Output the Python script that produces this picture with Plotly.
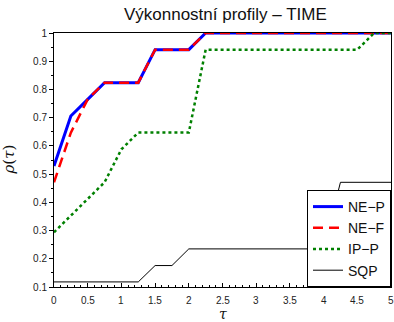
import plotly.graph_objects as go

tau = [0, 0.25, 0.5, 0.75, 1.0, 1.25, 1.5, 1.75, 2.0, 2.25, 2.5, 2.75, 3.0,
       3.25, 3.5, 3.75, 4.0, 4.25, 4.5, 4.75, 5.0]

ne_p = [0.529, 0.706, 0.765, 0.824, 0.824, 0.824, 0.941, 0.941, 0.941, 1, 1, 1, 1,
        1, 1, 1, 1, 1, 1, 1, 1]
ne_f = [0.471, 0.647, 0.765, 0.824, 0.824, 0.824, 0.941, 0.941, 0.941, 1, 1, 1, 1,
        1, 1, 1, 1, 1, 1, 1, 1]
ip_p = [0.294, 0.353, 0.412, 0.471, 0.588, 0.647, 0.647, 0.647, 0.647, 0.941, 0.941, 0.941, 0.941,
        0.941, 0.941, 0.941, 0.941, 0.941, 0.941, 1, 1]
sqp = [0.118, 0.118, 0.118, 0.118, 0.118, 0.118, 0.176, 0.176, 0.235, 0.235, 0.235, 0.235, 0.235,
       0.235, 0.235, 0.235, 0.235, 0.471, 0.471, 0.471, 0.471]

names = ["NE\u2212P", "NE\u2212F", "IP\u2212P", "SQP"]
x_ticks = [0, 0.5, 1, 1.5, 2, 2.5, 3, 3.5, 4, 4.5, 5]
x_tick_labels = ["0", "0.5", "1", "1.5", "2", "2.5", "3", "3.5", "4", "4.5", "5"]

fig = go.Figure()
fig.add_trace(go.Scatter(x=tau, y=ne_p, mode="lines", name=names[0],
                         line=dict(color="#0000ff", width=3)))
fig.add_trace(go.Scatter(x=tau, y=ne_f, mode="lines", name=names[1],
                         line=dict(color="#ff0000", width=2.5, dash="10px,6px")))
fig.add_trace(go.Scatter(x=tau, y=ip_p, mode="lines", name=names[2],
                         line=dict(color="#008000", width=2.5, dash="dot")))
fig.add_trace(go.Scatter(x=tau, y=sqp, mode="lines", name=names[3],
                         line=dict(color="#000000", width=1)))

font = "Liberation Sans, Arial, sans-serif"
serif = "DejaVu Serif, serif"

annotations = [
    dict(text="<i>τ</i>", xref="paper", yref="paper", x=0.5, y=-0.106,
         xanchor="center", yanchor="middle", showarrow=False,
         font=dict(size=14, family=serif, color="#111")),
    dict(text="<i>ρ</i>(<i>τ</i>)", xref="paper", yref="paper", x=-0.135, y=0.5,
         xanchor="center", yanchor="middle", textangle=-90, showarrow=False,
         font=dict(size=15, family=serif, color="#111")),
]
for xv, lab in zip(x_ticks, x_tick_labels):
    annotations.append(dict(text=lab, x=xv, xref="x", y=-0.022, yref="paper",
                            xanchor="center", yanchor="top", showarrow=False,
                            font=dict(size=10, family=font, color="#222")))

fig.update_layout(
    width=394, height=322,
    margin=dict(l=54, r=3, t=33, b=35, autoexpand=False),
    paper_bgcolor="white", plot_bgcolor="white",
    font=dict(family=font, size=10, color="#222"),
    title=dict(text="Výkonnostní profily \u2013 TIME", x=0.572, xanchor="center",
               y=0.955, yanchor="middle", font=dict(size=17, color="#111")),
    showlegend=True,
    legend=dict(x=1, xanchor="right", y=0, yanchor="bottom",
                bgcolor="white", bordercolor="black", borderwidth=1,
                font=dict(size=14, color="#111"), tracegroupgap=0),
    annotations=annotations,
)
fig.update_xaxes(range=[0, 5], dtick=0.5, tick0=0, showgrid=False, zeroline=False,
                 showline=True, linecolor="black", linewidth=1, mirror=True,
                 ticks="inside", ticklen=4, tickcolor="black", automargin=False,
                 showticklabels=False,
                 minor=dict(ticks="inside", ticklen=2, dtick=0.1, tickcolor="black"))
fig.update_yaxes(range=[0.1, 1], dtick=0.1, tick0=0, showgrid=False, zeroline=False,
                 showline=True, linecolor="black", linewidth=1, mirror=True,
                 ticks="outside", ticklen=4, tickcolor="black", automargin=False,
                 minor=dict(ticks="outside", ticklen=2, dtick=0.05, tickcolor="black"))

fig.write_html("out.html", config={"displayModeBar": False},
               post_script="document.body.style.margin='0';document.body.style.overflow='hidden';")
